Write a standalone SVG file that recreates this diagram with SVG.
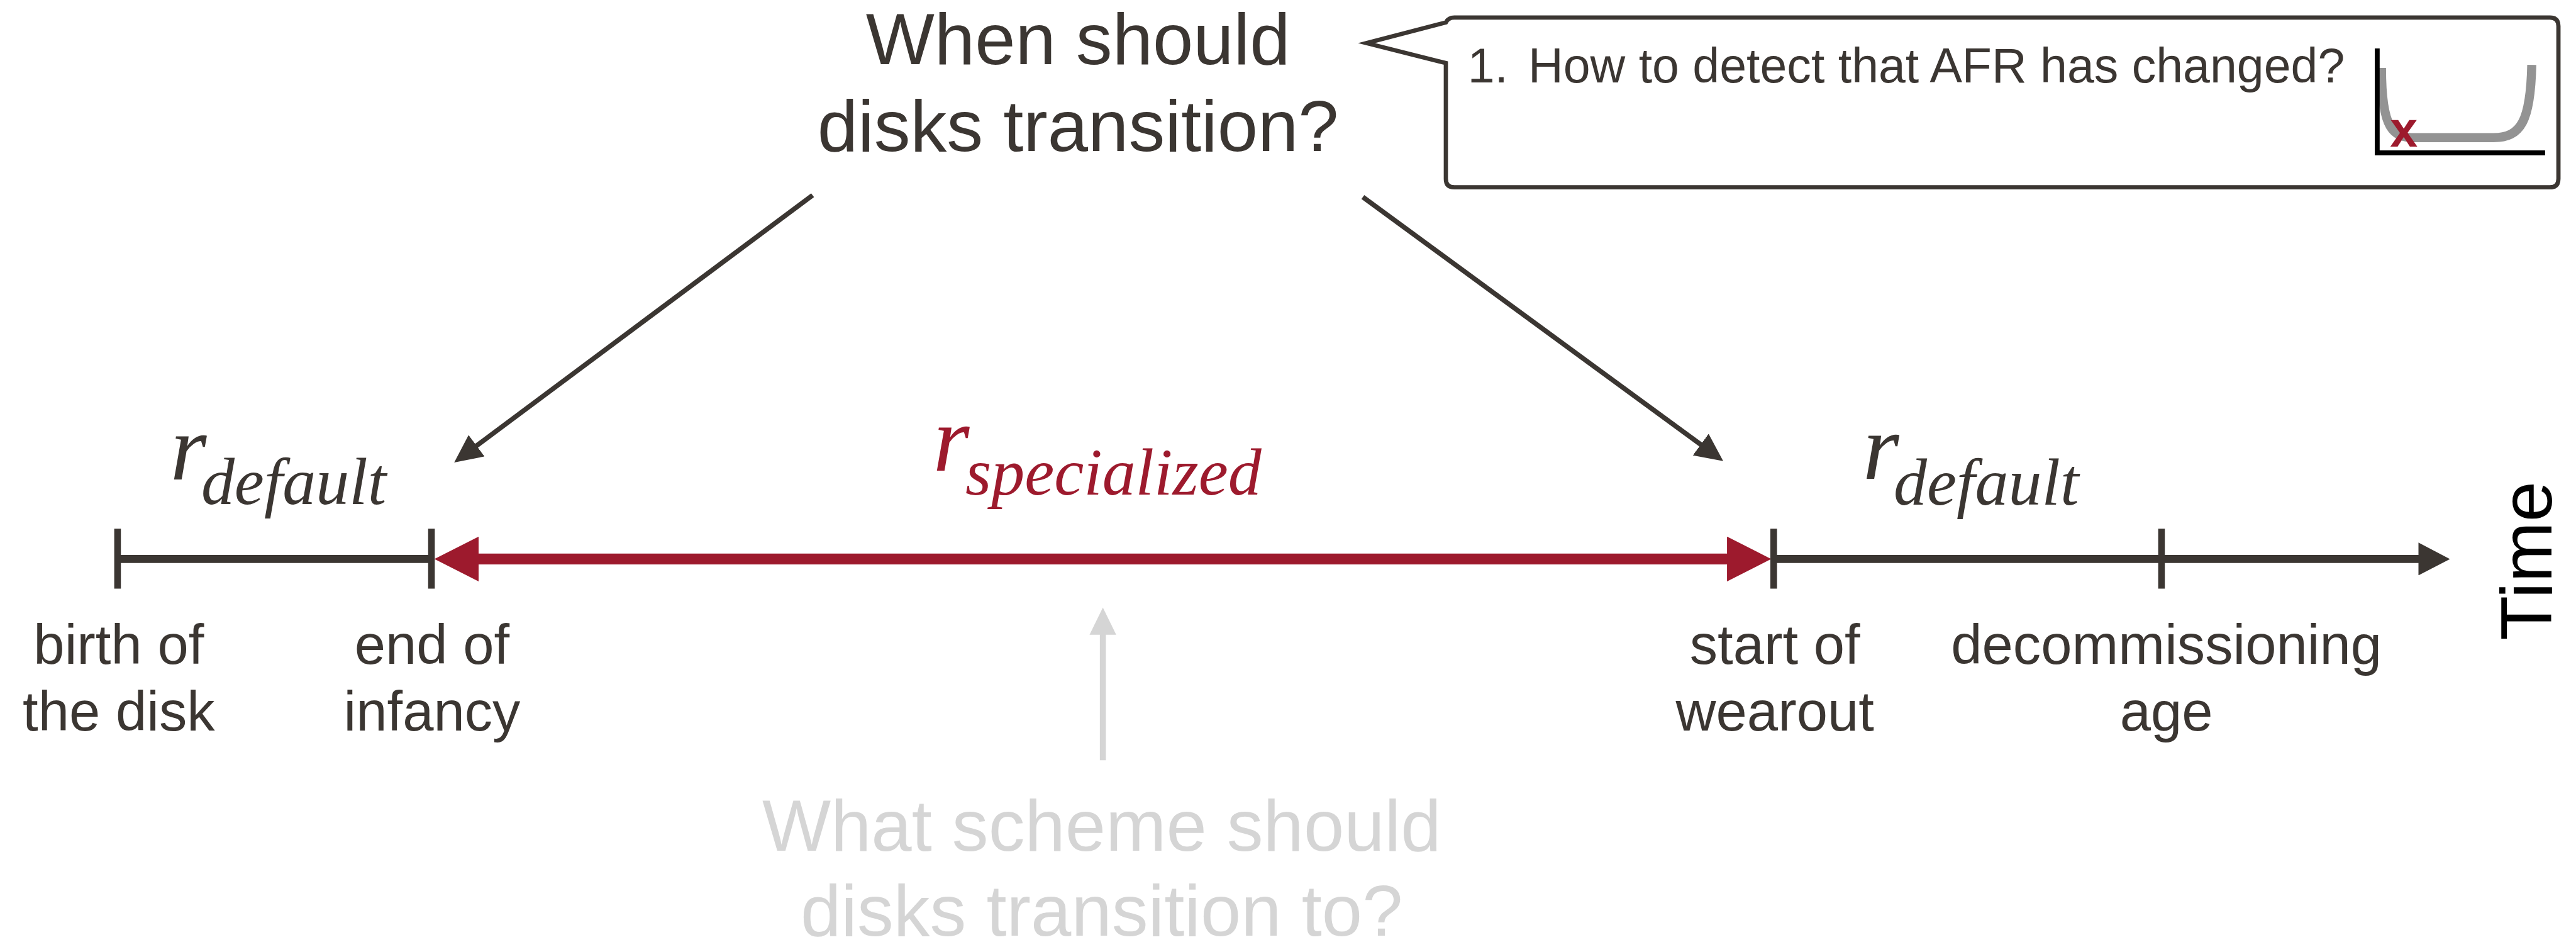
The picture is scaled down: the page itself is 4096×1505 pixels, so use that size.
<svg xmlns="http://www.w3.org/2000/svg" width="4096" height="1505" viewBox="0 0 4096 1505">
  <defs>
    <style>
      .sans { font-family: "Liberation Sans", Arial, Helvetica, sans-serif; }
      .math { font-family: "Liberation Serif", "Times New Roman", serif; font-style: italic; }
      .ink { fill: #3b3632; }
      .crimson { fill: #9d1a2d; }
      .q { font-size: 120px; text-anchor: middle; }
      .lbl { font-size: 92px; text-anchor: middle; }
      .tick { stroke: #3b3632; stroke-width: 11; fill: none; }
      .axis { stroke: #3b3632; stroke-width: 13; fill: none; }
      .slant { stroke: #3b3632; stroke-width: 8; fill: none; }
    </style>
    <marker id="head-axis" markerUnits="userSpaceOnUse" viewBox="0 0 52 54" markerWidth="52" markerHeight="54" refX="2" refY="27" orient="auto">
      <path d="M0,0 L52,27 L0,54 Z" fill="#3b3632"/>
    </marker>
    <marker id="head-span" markerUnits="userSpaceOnUse" viewBox="0 0 73 74" markerWidth="73" markerHeight="74" refX="2" refY="37" orient="auto-start-reverse">
      <path d="M0,0 L73,37 L0,74 Z" fill="#9d1a2d"/>
    </marker>
    <marker id="head-slant" markerUnits="userSpaceOnUse" viewBox="0 0 46 44" markerWidth="46" markerHeight="44" refX="3" refY="22" orient="auto">
      <path d="M0,0 L46,22 L0,44 Z" fill="#3b3632"/>
    </marker>
    <marker id="head-faint" markerUnits="userSpaceOnUse" viewBox="0 0 45 44" markerWidth="45" markerHeight="44" refX="2" refY="22" orient="auto">
      <path d="M0,0 L45,22 L0,44 Z" fill="#d5d5d5"/>
    </marker>
  </defs>

  <rect x="0" y="0" width="4096" height="1505" fill="#ffffff"/>

  <g transform="scale(0.963538)">
    <!-- central question -->
    <g id="question">
      <text class="sans q ink" x="1779" y="106">When should</text>
      <text class="sans q ink" x="1779" y="249">disks transition?</text>
    </g>

    <!-- speech-bubble callout with the bathtub curve -->
    <g id="callout">
      <path d="M2400,29 H4208 Q4222,29 4222,43 V295 Q4222,309 4208,309 H2400 Q2386,309 2386,295 V104 L2255,71 L2386,37 Q2390,29 2400,29 Z"
            fill="#ffffff" stroke="#3b3632" stroke-width="7" stroke-linejoin="miter" stroke-miterlimit="12"/>
      <text class="sans ink" x="2422" y="136" font-size="80">1.</text>
      <text class="sans ink" x="2522" y="136" font-size="80">How to detect that AFR has changed?</text>
      <g id="bathtub">
        <path d="M3930,112 C3930,215 3950,227 3985,227 L4115,227 C4160,227 4176,200 4178,107" fill="none" stroke="#939393" stroke-width="15"/>
        <path d="M3923,80 V256 M3919,252 H4200" fill="none" stroke="#000000" stroke-width="8"/>
        <text class="sans crimson" x="3967" y="242" font-size="82" font-weight="bold" text-anchor="middle">x</text>
      </g>
    </g>

    <!-- timeline -->
    <g id="timeline">
      <path class="axis" d="M194,922 H712"/>
      <path class="axis" d="M2927,922 H3993" marker-end="url(#head-axis)"/>
      <path d="M788,922 H2852" fill="none" stroke="#9d1a2d" stroke-width="18" marker-start="url(#head-span)" marker-end="url(#head-span)"/>
      <path class="tick" d="M194,872 V971"/>
      <path class="tick" d="M712,872 V971"/>
      <path class="tick" d="M2927,872 V971"/>
      <path class="tick" d="M3567,872 V971"/>
    </g>

    <g id="time-label">
      <text class="sans" transform="translate(4211,925) rotate(-90)" x="0" y="0" font-size="120" text-anchor="middle" fill="#000000">Time</text>
    </g>

    <!-- milestone labels -->
    <g id="birth">
      <text class="sans lbl ink" x="196" y="1095">birth of</text>
      <text class="sans lbl ink" x="196" y="1205">the disk</text>
    </g>
    <g id="infancy-end">
      <text class="sans lbl ink" x="713" y="1095">end of</text>
      <text class="sans lbl ink" x="713" y="1205">infancy</text>
    </g>
    <g id="wearout-start">
      <text class="sans lbl ink" x="2929" y="1095">start of</text>
      <text class="sans lbl ink" x="2929" y="1205">wearout</text>
    </g>
    <g id="decommission">
      <text class="sans lbl ink" x="3575" y="1095">decommissioning</text>
      <text class="sans lbl ink" x="3575" y="1205">age</text>
    </g>

    <!-- redundancy schemes per phase -->
    <g id="rate-default-early">
      <text class="math ink" x="281" y="791" font-size="154">r</text>
      <text class="math ink" x="332" y="831" font-size="110">default</text>
    </g>
    <g id="rate-specialized">
      <text class="math crimson" x="1540" y="776" font-size="154">r</text>
      <text class="math crimson" x="1593" y="816" font-size="110">specialized</text>
    </g>
    <g id="rate-default-late">
      <text class="math ink" x="3074" y="790" font-size="154">r</text>
      <text class="math ink" x="3125" y="832" font-size="110">default</text>
    </g>

    <!-- secondary question -->
    <g id="scheme-question">
      <text class="sans q" x="1818" y="1403" fill="#d5d5d5">What scheme should</text>
      <text class="sans q" x="1818" y="1543" fill="#d5d5d5">disks transition to?</text>
    </g>

    <!-- connectors -->
    <g id="connectors">
      <path class="slant" d="M1341,322 L784,737" marker-end="url(#head-slant)"/>
      <path class="slant" d="M2249,325 L2809,735" marker-end="url(#head-slant)"/>
      <path d="M1820,1254 V1045" fill="none" stroke="#d5d5d5" stroke-width="10" marker-end="url(#head-faint)"/>
    </g>
  </g>
</svg>
